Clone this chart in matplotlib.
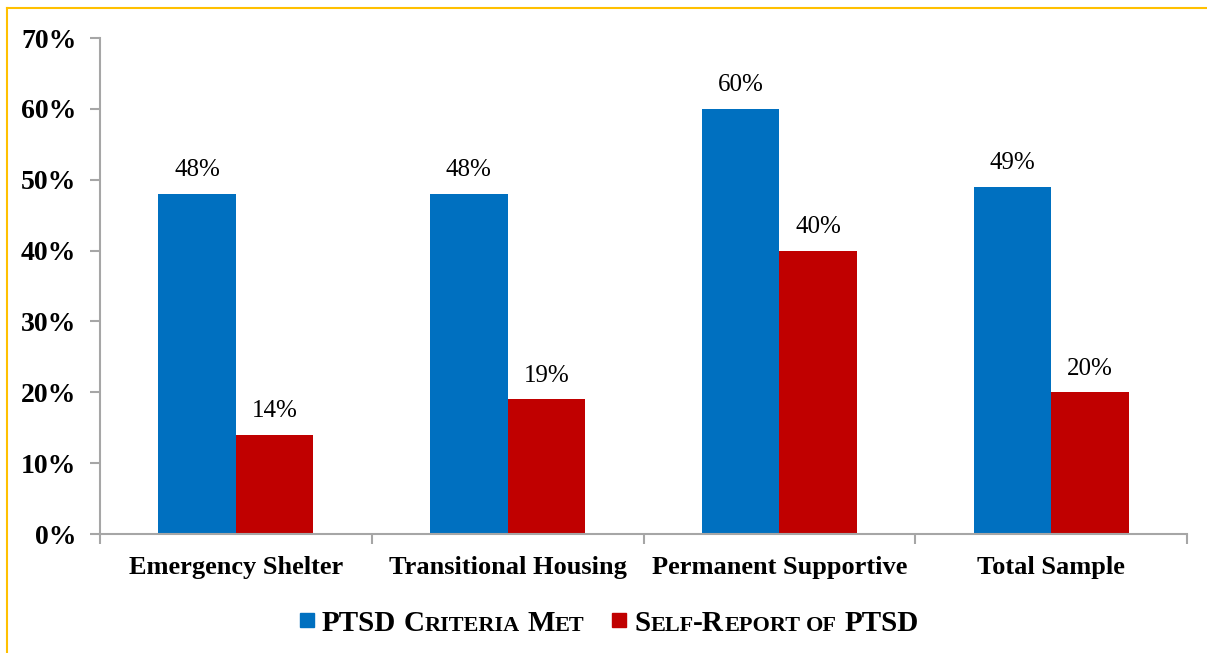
import numpy as np
import matplotlib
matplotlib.use("Agg")
import matplotlib.pyplot as plt
from matplotlib.lines import Line2D
from matplotlib.patches import Rectangle
from matplotlib.ticker import FuncFormatter

# ----------------------------
# Data
# ----------------------------
categories = ["Emergency Shelter", "Transitional Housing", "Permanent Supportive", "Total Sample"]
criteria_met = [48, 48, 60, 49]
self_report = [14, 19, 40, 20]
y_ticks = [0, 10, 20, 30, 40, 50, 60, 70]

BLUE = "#0070C0"
RED = "#C00000"
GOLD = "#FFC000"
AXIS_GREY = "#A6A6A6"

plt.rcParams["font.family"] = ["Liberation Serif", "DejaVu Serif"]

fig = plt.figure(figsize=(12.07, 6.53), dpi=100)
ax = fig.add_axes([100 / 1207, 1 - 534 / 653, 1087 / 1207, 496 / 653])

x = np.arange(len(categories))
w = 0.285
b1 = ax.bar(x - w / 2, criteria_met, w, color=BLUE)
b2 = ax.bar(x + w / 2, self_report, w, color=RED)

for bars, vals in ((b1, criteria_met), (b2, self_report)):
    for rect, v in zip(bars, vals):
        ax.annotate(f"{v}%", (rect.get_x() + rect.get_width() / 2, v),
                    xytext=(0, 9), textcoords="offset points",
                    ha="center", va="bottom", fontsize=18)

ax.set_xlim(-0.5, len(categories) - 0.5)
ax.set_ylim(0, 70)
ax.set_yticks(y_ticks)
ax.yaxis.set_major_formatter(FuncFormatter(lambda v, p: f"{v:.0f}%"))
ax.tick_params(axis="y", direction="out", length=7, width=1.5, color=AXIS_GREY,
               pad=10, labelsize=20)
for lab in ax.get_yticklabels():
    lab.set_fontweight("bold")

# boundary ticks as major, category labels as minor
ax.set_xticks(np.arange(-0.5, len(categories), 1.0))
ax.set_xticklabels([])
ax.set_xticks(x, minor=True)
ax.set_xticklabels(categories, minor=True, fontsize=19, fontweight="bold")
ax.tick_params(axis="x", which="major", direction="out", length=7, width=1.5, color=AXIS_GREY)
ax.tick_params(axis="x", which="minor", length=0, pad=16)

for s in ("top", "right"):
    ax.spines[s].set_visible(False)
for s in ("left", "bottom"):
    ax.spines[s].set_color(AXIS_GREY)
    ax.spines[s].set_linewidth(1.5)

# gold frame (top and left only)
fig.add_artist(Line2D([7 / 1207, 1.0], [1 - 8 / 653, 1 - 8 / 653], color=GOLD, lw=1.5))
fig.add_artist(Line2D([7 / 1207, 7 / 1207], [0, 1 - 8 / 653], color=GOLD, lw=1.5))

# ----------------------------
# Legend with small caps
# ----------------------------
renderer = fig.canvas.get_renderer()
BIG, SMALL = 21, 16
W, H = 1207.0, 653.0


def smallcaps(x_px, y_px, parts):
    # parts: list of (text, size, gap_before_in_em)
    cur = x_px
    for txt, size, gap in parts:
        cur += gap * size * 100 / 72
        t = fig.text(cur / W, 1 - y_px / H, txt, fontsize=size, fontweight="bold",
                     ha="left", va="baseline")
        cur += t.get_window_extent(renderer).width
    return cur


legend_items = [
    (BLUE, 300, [("PTSD", BIG, 0), ("C", BIG, 0.25), ("RITERIA", SMALL, 0.0),
                 ("M", BIG, 0.25), ("ET", SMALL, 0.0)]),
    (RED, 612, [("S", BIG, 0), ("ELF", SMALL, 0.0), ("-R", BIG, 0.0), ("EPORT", SMALL, 0.0),
                ("OF", SMALL, 0.25), ("PTSD", BIG, 0.25)]),
]
for color, x0, parts in legend_items:
    fig.add_artist(Rectangle((x0 / W, 1 - 627 / H), 14 / W, 14 / H, color=color,
                             transform=fig.transFigure))
    smallcaps(x0 + 22, 631, parts)

fig.savefig("out.png", dpi=100)
